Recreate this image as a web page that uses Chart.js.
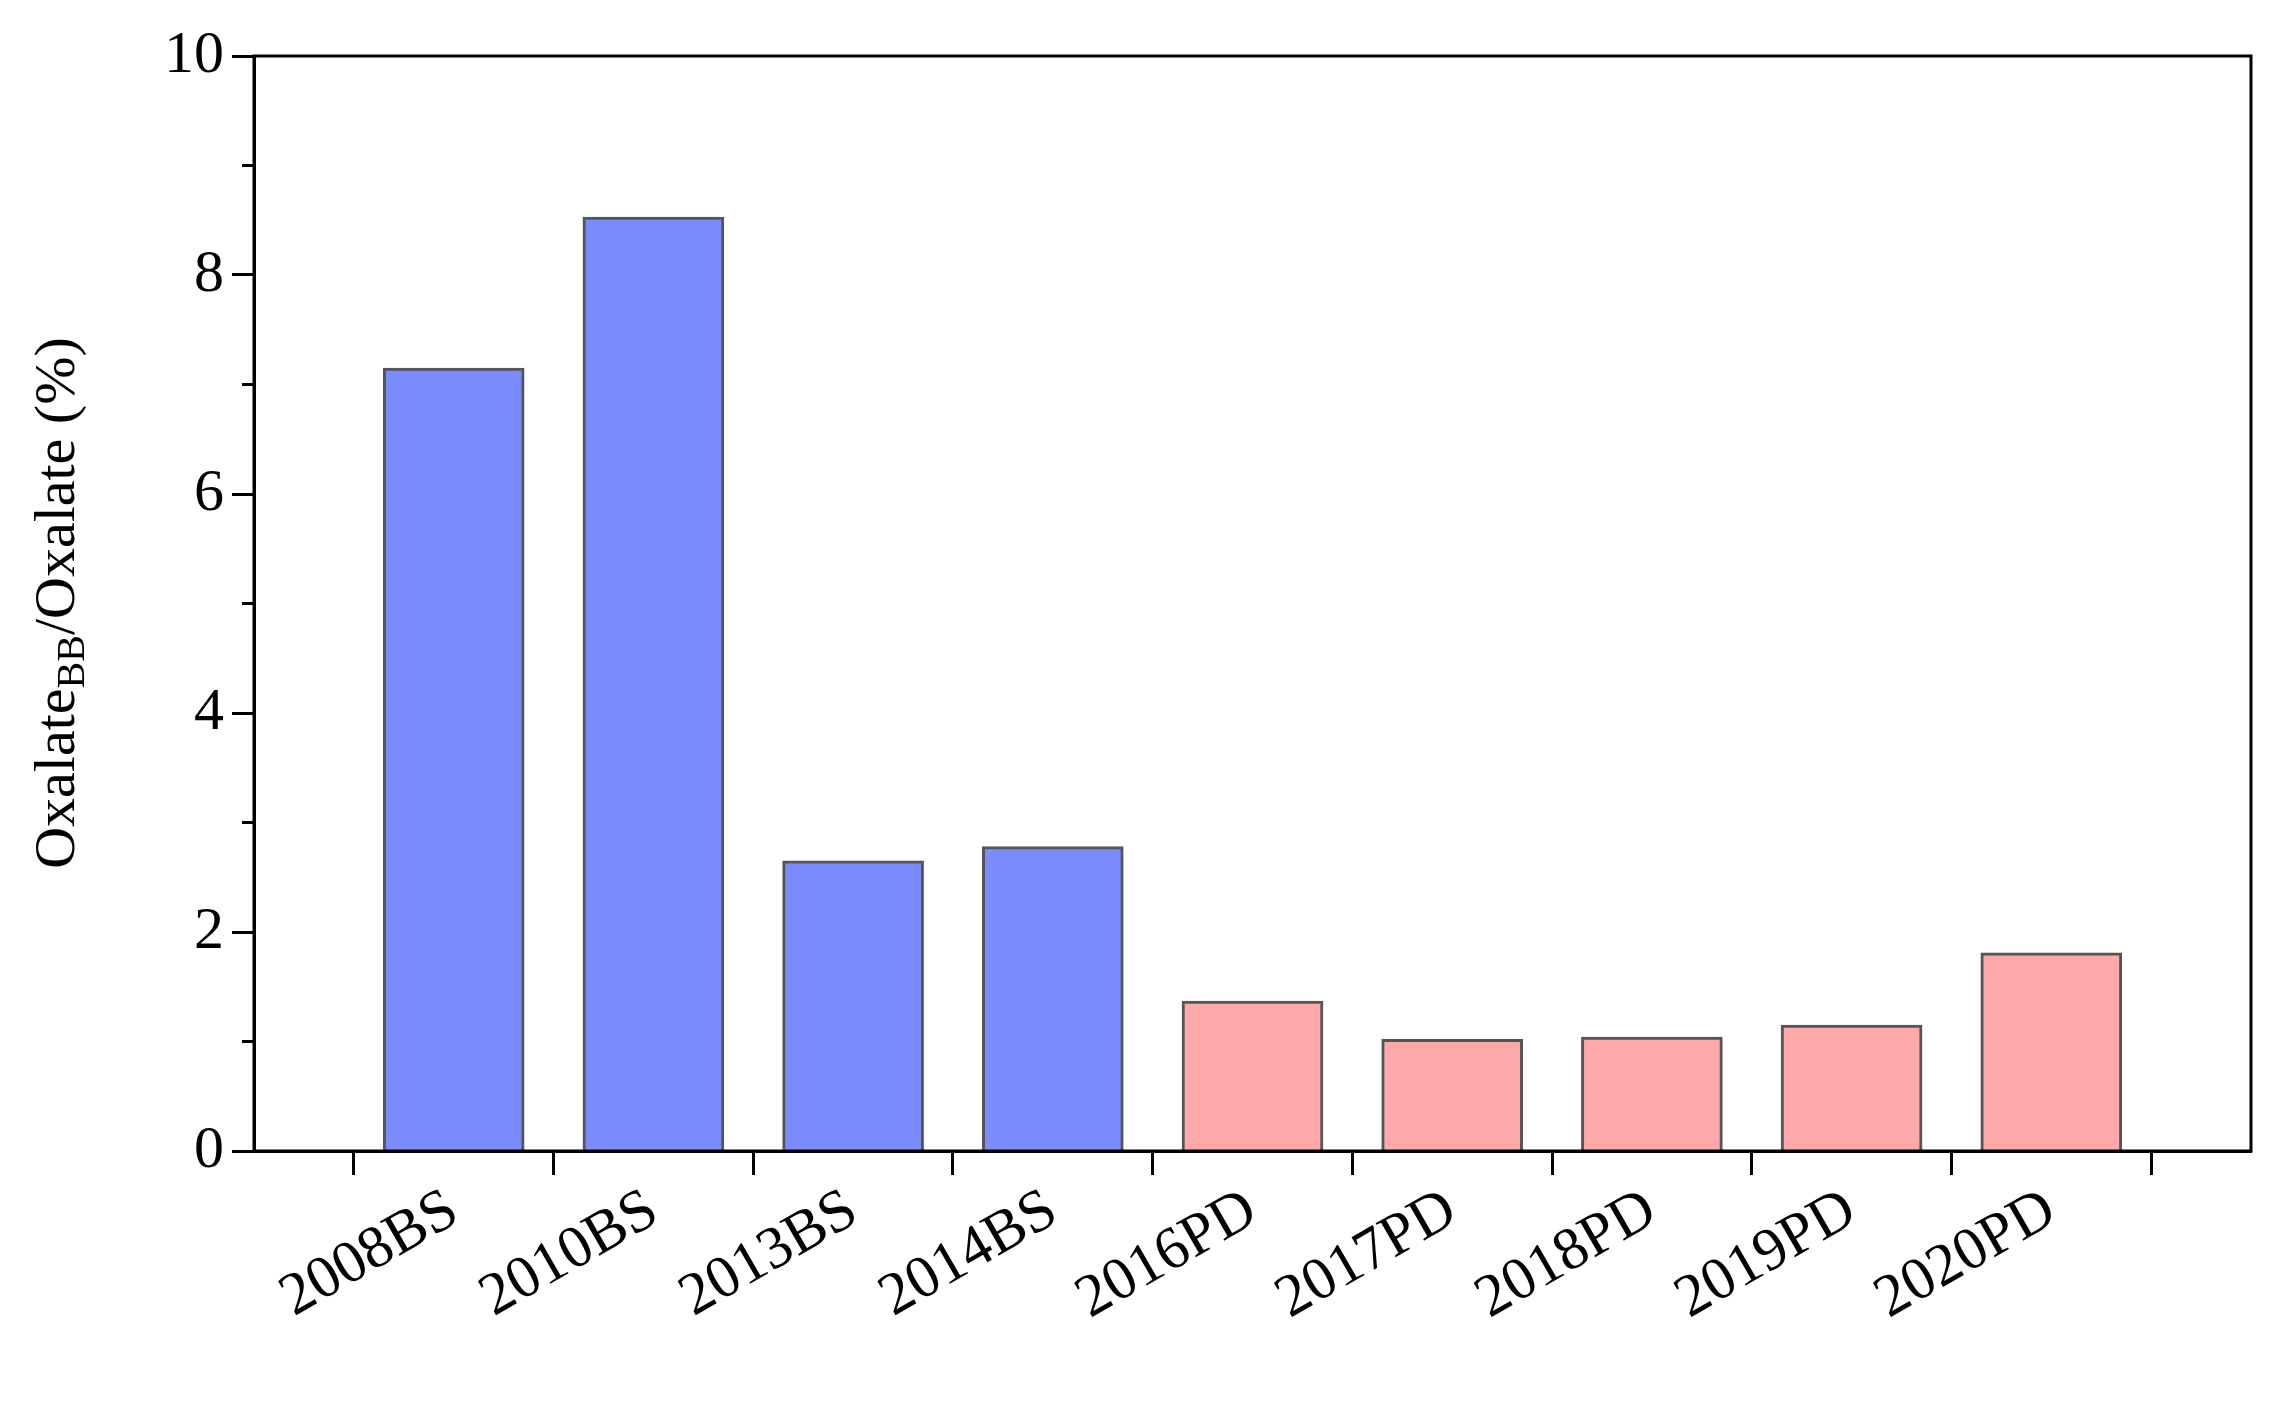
<!DOCTYPE html>
<html>
<head>
<meta charset="utf-8">
<script src="https://cdn.jsdelivr.net/npm/chart.js@4"></script>
<style>
  body { margin: 0; background: #fff; }
</style>
</head>
<body>
<canvas id="chart" width="2287" height="1406"></canvas>
<script>
// categories with empty slots at both ends so the axis runs 0..10
var categories = ['', '2008BS', '2010BS', '2013BS', '2014BS', '2016PD', '2017PD', '2018PD', '2019PD', '2020PD', ''];
var ratioValues = [null, 7.15, 8.53, 2.65, 2.78, 1.37, 1.02, 1.04, 1.15, 1.81, null];
var barColors = ['', '#7b8cff', '#7b8cff', '#7b8cff', '#7b8cff', '#fda9a9', '#fda9a9', '#fda9a9', '#fda9a9', '#fda9a9', ''];
var yTicks = [0, 2, 4, 6, 8, 10];

var fontFamily = '"Liberation Serif", "Times New Roman", serif';

// frame, minor ticks and the y title with subscript
var decorPlugin = {
    id: 'decor',
    afterDraw: function (chart) {
        var ctx = chart.ctx;
        var a = chart.chartArea;
        var y = chart.scales.y;
        ctx.save();
        ctx.strokeStyle = '#000';
        ctx.lineWidth = 3;
        ctx.strokeRect(a.left, a.top, a.right - a.left, a.bottom - a.top);
        // minor ticks on the y axis
        ctx.lineWidth = 3;
        for (var v = 1; v < 10; v += 2) {
            var py = y.getPixelForValue(v);
            ctx.beginPath();
            ctx.moveTo(a.left, py);
            ctx.lineTo(a.left - 12, py);
            ctx.stroke();
        }
        // y title
        ctx.translate(59, 603);
        ctx.rotate(-Math.PI / 2);
        ctx.fillStyle = '#000';
        ctx.textBaseline = 'middle';
        var big = '58px ' + fontFamily;
        var small = '40px ' + fontFamily;
        var parts = [['Oxalate', big, 0], ['BB', small, 14], ['/Oxalate (%)', big, 0]];
        var total = 0;
        parts.forEach(function (p) { ctx.font = p[1]; total += ctx.measureText(p[0]).width; });
        var x = -total / 2;
        parts.forEach(function (p) {
            ctx.font = p[1];
            ctx.fillText(p[0], x, p[2]);
            x += ctx.measureText(p[0]).width;
        });
        ctx.restore();
    }
};

new Chart(document.getElementById('chart').getContext('2d'), {
    type: 'bar',
    data: {
        labels: categories,
        datasets: [{
            data: ratioValues,
            backgroundColor: barColors,
            borderColor: '#555',
            borderWidth: 3,
            borderSkipped: 'bottom',
            barThickness: 141
        }]
    },
    options: {
        responsive: false,
        animation: false,
        layout: { padding: { left: 0, top: 56, right: 34, bottom: 0 } },
        plugins: { legend: { display: false }, tooltip: { enabled: false } },
        scales: {
            x: {
                offset: false,
                afterFit: function (s) { s.height = 255; },
                grid: { drawOnChartArea: false, tickLength: 24, tickWidth: 3, color: '#000' },
                border: { color: '#000', width: 3 },
                ticks: {
                    color: '#000',
                    font: { family: fontFamily, size: 60 },
                    maxRotation: 30,
                    minRotation: 30,
                    autoSkip: false,
                    padding: 0
                }
            },
            y: {
                min: 0,
                max: 10,
                afterFit: function (s) { s.width = 254; },
                afterBuildTicks: function (s) { s.ticks = yTicks.map(function (v) { return { value: v }; }); },
                grid: { drawOnChartArea: false, tickLength: 22, tickWidth: 3, color: '#000' },
                border: { color: '#000', width: 3 },
                ticks: {
                    color: '#000',
                    font: { family: fontFamily, size: 60 },
                    padding: 8
                }
            }
        }
    },
    plugins: [decorPlugin]
});
</script>
</body>
</html>
